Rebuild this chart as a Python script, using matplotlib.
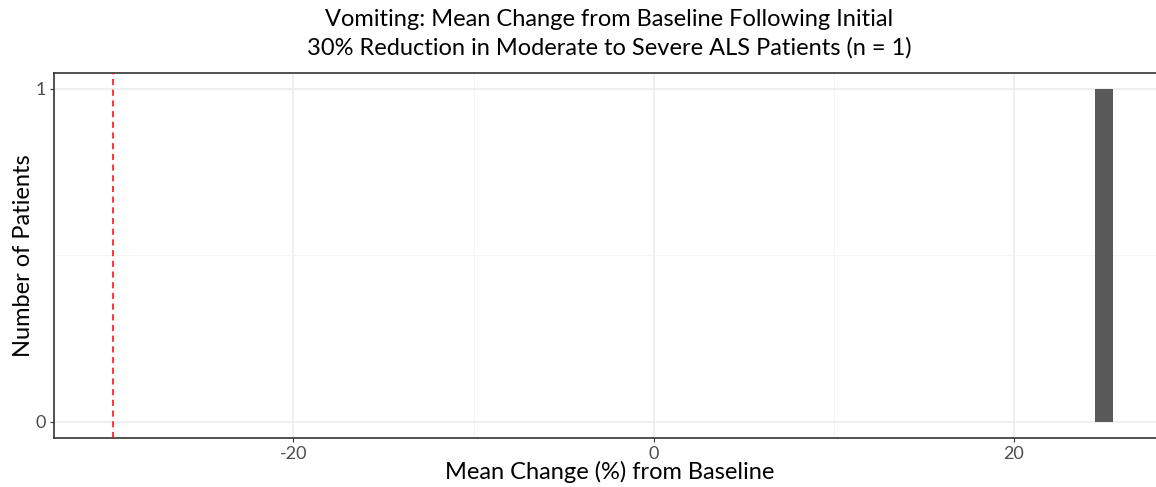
import matplotlib
matplotlib.use("Agg")
import matplotlib.pyplot as plt

plt.rcParams["font.family"] = ["Lato", "DejaVu Sans"]
plt.rcParams["axes.unicode_minus"] = False

# data: one patient, histogram with binwidth 1
bin_centers = [25]
counts = [1]
bin_width = 1.0
threshold = -30

x_ticks = [-20, 0, 20]
x_minor = [-30, -10, 10]
y_ticks = [0, 1]
y_minor = [0.5]

TITLE = ("Vomiting: Mean Change from Baseline Following Initial\n"
         "30% Reduction in Moderate to Severe ALS Patients (n = 1)")

fig = plt.figure(figsize=(11.56, 4.87), dpi=100)
ax = fig.add_axes([54 / 1156, 1 - 437.5 / 487, (1165 - 54) / 1156, (437.5 - 73) / 487])

ax.bar(bin_centers, counts, width=bin_width, color="#595959", zorder=3)
ax.axvline(threshold, color="#FF0000", ls=(0, (4, 3)), lw=1.1, zorder=4)

ax.set_xlim(-33.3, 28.4)
ax.set_ylim(-0.048, 1.048)
ax.set_xticks(x_ticks)
ax.set_xticks(x_minor, minor=True)
ax.set_yticks(y_ticks)
ax.set_yticks(y_minor, minor=True)
ax.grid(which="major", color="#EBEBEB", lw=1.1, zorder=0)
ax.grid(which="minor", color="#F4F4F4", lw=0.6, zorder=0)
ax.tick_params(which="minor", length=0)
ax.tick_params(which="major", length=3, color="#333333", labelsize=13,
               labelcolor="#4D4D4D", pad=3)
for s in ("left", "bottom", "top"):
    ax.spines[s].set_color("#333333")
    ax.spines[s].set_linewidth(1.2)
ax.spines["right"].set_visible(False)

ax.set_xlabel("Mean Change (%) from Baseline", fontsize=17, labelpad=-1)
ax.set_ylabel("Number of Patients", fontsize=17, labelpad=1)
ax.set_title(TITLE, fontsize=17, pad=13, linespacing=1.42)

fig.savefig("out.png", dpi=100)
